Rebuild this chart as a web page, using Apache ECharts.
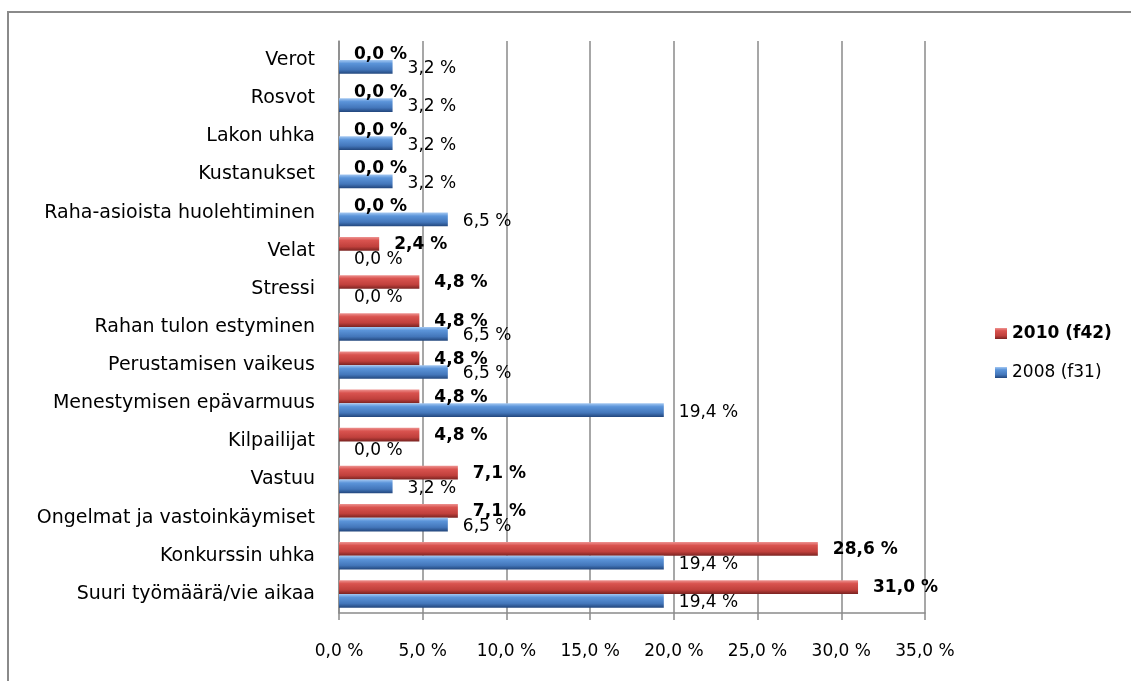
<!DOCTYPE html>
<html>
<head>
<meta charset="utf-8">
<script src="https://cdn.jsdelivr.net/npm/echarts@6/dist/echarts.min.js"></script>
<style>html,body{margin:0;padding:0;background:#fff;}#c{width:1131px;height:681px;}</style>
</head>
<body>
<div id="c"></div>
<script>
const categories = ['Suuri työmäärä/vie aikaa','Konkurssin uhka','Ongelmat ja vastoinkäymiset','Vastuu','Kilpailijat','Menestymisen epävarmuus','Perustamisen vaikeus','Rahan tulon estyminen','Stressi','Velat','Raha-asioista huolehtiminen','Kustanukset','Lakon uhka','Rosvot','Verot'];
const values2010 = [31.0, 28.6, 7.1, 7.1, 4.8, 4.8, 4.8, 4.8, 4.8, 2.4, 0, 0, 0, 0, 0];
const values2008 = [19.4, 19.4, 6.5, 3.2, 0, 19.4, 6.5, 6.5, 0, 0, 6.5, 3.2, 3.2, 3.2, 3.2];
const xTicks = [0, 5, 10, 15, 20, 25, 30, 35];
const seriesNames = ['2010 (f42)', '2008 (f31)'];

const fmt = v => v.toFixed(1).replace('.', ',') + ' %';
const FONT = 'DejaVu Sans';
const chart = echarts.init(document.getElementById('c'));
const grad = (stops) => new echarts.graphic.LinearGradient(0, 0, 0, 1, stops.map(c => ({offset: c[0], color: c[1]})));
const redGrad = grad([[0,'#ee9391'],[0.25,'#d9534f'],[0.7,'#c0403c'],[1,'#7a2321']]);
const blueGrad = grad([[0,'#a4c8f2'],[0.25,'#5b94d9'],[0.7,'#4376ba'],[1,'#22467c']]);

chart.setOption({
  animation: false,
  graphic: [{type:'rect', shape:{x:8, y:12, width:1300, height:900}, style:{fill:'none', stroke:'#8a8a8a', lineWidth:2}}],
  grid: {left: 339, right: 206, top: 41, bottom: 68},
  legend: {
    orient: 'vertical', left: 990, top: 320, itemGap: 22, itemWidth: 12, itemHeight: 11, icon: 'rect',
    data: [seriesNames[0], seriesNames[1]],
    formatter: n => n.startsWith('2010') ? '{b|' + n + '}' : '{n|' + n + '}',
    textStyle: {fontFamily: FONT, fontSize: 17, color: '#000',
      rich: {b: {fontWeight: 'bold', fontFamily: FONT, fontSize: 17, color:'#000'}, n: {fontFamily: FONT, fontSize: 17, color:'#000'}}}
  },
  xAxis: {
    type: 'value', min: xTicks[0], max: xTicks[xTicks.length-1], interval: 5,
    axisLine: {show: true, lineStyle: {color: '#8a8a8a', width: 1.5}},
    axisTick: {show: true, length: 7, lineStyle: {color: '#8a8a8a', width: 1.5}},
    splitLine: {show: true, lineStyle: {color: '#8a8a8a', width: 1.5}},
    axisLabel: {formatter: v => fmt(v), fontFamily: FONT, fontSize: 17, color: '#000', margin: 30}
  },
  yAxis: {
    type: 'category', data: categories,
    axisLine: {show: true, lineStyle: {color: '#8a8a8a', width: 1.5}},
    axisTick: {show: false},
    axisLabel: {fontFamily: FONT, fontSize: 19, color: '#000', margin: 24}
  },
  series: [
    {name: seriesNames[0], type: 'bar', data: values2010, barGap: '0%', barCategoryGap: '28%',
      itemStyle: {color: redGrad},
      label: {show: true, position: 'right', distance: 15, formatter: p => fmt(p.value), fontFamily: FONT, fontSize: 17, fontWeight: 'bold', color: '#000', offset:[0,1]}},
    {name: seriesNames[1], type: 'bar', data: values2008, barGap: '0%', barCategoryGap: '28%',
      itemStyle: {color: blueGrad},
      label: {show: true, position: 'right', distance: 15, formatter: p => fmt(p.value), fontFamily: FONT, fontSize: 17, color: '#000', offset:[0,2]}}
  ]
});
</script>
</body>
</html>
